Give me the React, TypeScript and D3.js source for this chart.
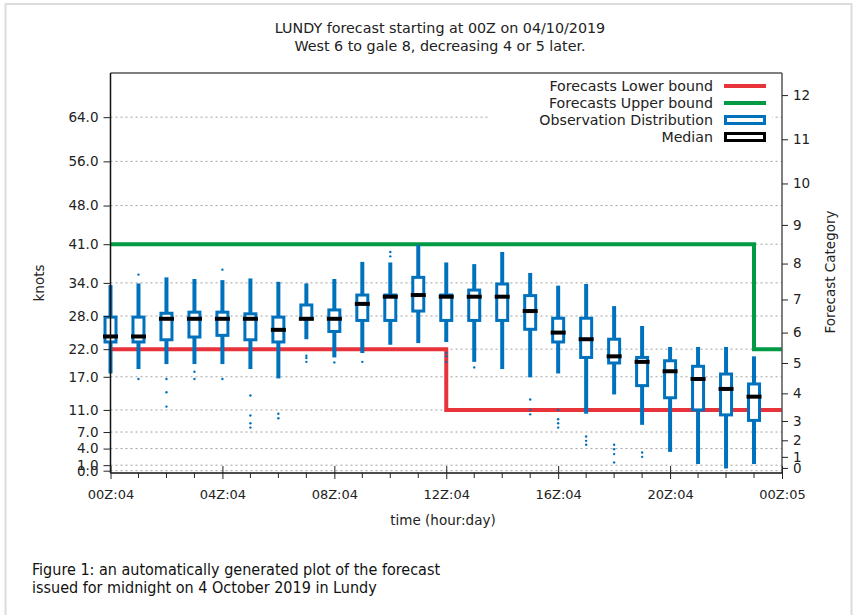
import React, { useEffect, useRef } from "react";
import * as d3 from "d3";

// hours after 00Z on 04/10/2019
const hours = [0, 1, 2, 3, 4, 5, 6, 7, 8, 9, 10, 11, 12, 13, 14, 15, 16, 17, 18, 19, 20, 21, 22, 23];

// observation distribution (knots)
const whiskerLow = [17.6, 18.4, 19.3, 19.3, 19.3, 18.4, 16.7, 23.8, 20.5, 21.3, 22.8, 23.1, 23.3, 19.7, 18.4, 16.9, 17.6, 10.3, 13.8, 8.3, 3.4, 1.2, 0.4, 1.2];
const q1 = [23.3, 23.3, 23.7, 24.2, 24.5, 23.7, 23.3, 27.5, 25.2, 27.2, 27.2, 28.9, 27.2, 27.2, 27.2, 25.6, 23.3, 20.5, 19.5, 15.4, 13.2, 11.0, 10.1, 9.1];
const median = [24.3, 24.3, 27.5, 27.5, 27.5, 27.5, 25.5, 27.5, 27.5, 30.2, 31.5, 31.8, 31.5, 31.5, 31.5, 28.9, 25.0, 23.8, 20.7, 19.7, 18.0, 16.6, 14.8, 13.4];
const q3 = [27.8, 27.8, 28.5, 28.7, 28.7, 28.4, 27.8, 30.0, 29.1, 31.8, 31.8, 35.0, 31.8, 32.7, 33.8, 31.7, 27.6, 27.6, 23.8, 20.5, 19.9, 18.9, 17.5, 15.7];
const whiskerHigh = [33.6, 33.9, 35.0, 34.7, 34.5, 34.8, 34.2, 33.9, 34.7, 37.8, 37.7, 40.9, 37.7, 37.4, 39.6, 35.8, 33.5, 33.8, 29.8, 26.2, 22.4, 22.4, 22.4, 20.7];

// outliers: [hour, knots]
const outliers = [
  [1, 35.5], [1, 16.6],
  [2, 16.6], [2, 14.2], [2, 11.6],
  [3, 17.9], [3, 16.6],
  [4, 36.4], [4, 16.6],
  [5, 13.6], [5, 10.0], [5, 8.6], [5, 7.8],
  [6, 10.3], [6, 9.5],
  [7, 20.8], [7, 20.4], [7, 19.7],
  [8, 19.6],
  [9, 19.7],
  [10, 39.6], [10, 38.8],
  [12, 21.3], [12, 20.7], [12, 19.7],
  [13, 18.7],
  [15, 12.9], [15, 11.0], [15, 10.2],
  [16, 11.0], [16, 9.3], [16, 8.6], [16, 7.8],
  [17, 6.2], [17, 5.4], [17, 4.7],
  [18, 4.7], [18, 3.9], [18, 3.0], [18, 1.5],
  [19, 3.3], [19, 2.5],
];

// forecast bounds per hour (knots)
const lowerBound = [22, 22, 22, 22, 22, 22, 22, 22, 22, 22, 22, 22, 11, 11, 11, 11, 11, 11, 11, 11, 11, 11, 11, 11];
const upperBound = [41, 41, 41, 41, 41, 41, 41, 41, 41, 41, 41, 41, 41, 41, 41, 41, 41, 41, 41, 41, 41, 41, 41, 22];

// axis ticks
const knotTicks = [64, 56, 48, 41, 34, 28, 22, 17, 11, 7, 4, 1, 0];
const categoryLabels = ["0", "1", "2", "3", "4", "5", "6", "7", "8", "9", "10", "11", "12"];
const categoryKnots = [0.5, 2.5, 5.5, 9, 14, 19.5, 25, 31, 37.5, 44.5, 52, 60, 68];
const majorHours = [0, 4, 8, 12, 16, 20, 24];
const majorLabels = ["00Z:04", "04Z:04", "08Z:04", "12Z:04", "16Z:04", "20Z:04", "00Z:05"];

const BLUE = "#0072bd";
const RED = "#e8333a";
const GREEN = "#009a44";
const FONT = "'DejaVu Sans', sans-serif";

export default function App() {
  const ref = useRef<SVGSVGElement>(null);

  useEffect(() => {
    const svg = d3.select(ref.current);
    svg.selectAll("*").remove();

    const dims = { left: 110.5, right: 782, top: 73, bottom: 473 };

    const x = d3.scaleLinear().domain([0, 24]).range([dims.left, dims.right]);
    const y = d3.scaleLinear().domain([-0.42, 72]).range([dims.bottom, dims.top]);

    // page frame
    svg.append("rect")
      .attr("x", 5.5).attr("y", 4).attr("width", 846).attr("height", 640)
      .attr("fill", "white").attr("stroke", "#dcdcdc").attr("stroke-width", 2);

    // titles
    const title = svg.append("text")
      .attr("x", 440).attr("text-anchor", "middle")
      .style("font-family", FONT).style("font-size", "14.3px").attr("fill", "#222");
    title.append("tspan").attr("x", 440).attr("y", 33).text("LUNDY forecast starting at 00Z on 04/10/2019");
    title.append("tspan").attr("x", 440).attr("y", 51).text("West 6 to gale 8, decreasing 4 or 5 later.");

    // grid
    svg.append("g")
      .selectAll("line")
      .data(knotTicks)
      .join("line")
      .attr("x1", dims.left).attr("x2", dims.right)
      .attr("y1", d => y(d)).attr("y2", d => y(d))
      .attr("stroke", "#a0a0a0").attr("stroke-width", 1)
      .attr("stroke-dasharray", "2,3");

    // forecast bounds
    const stepLine = d3.line<number[]>()
      .x(d => x(d[0]))
      .y(d => y(d[1]))
      .curve(d3.curveStepAfter);

    const lowerPts = hours.map((h, i) => [h, lowerBound[i]]).concat([[24, lowerBound[lowerBound.length - 1]]]);
    const upperPts = hours.map((h, i) => [h, upperBound[i]]).concat([[24, upperBound[upperBound.length - 1]]]);

    svg.append("path").attr("d", stepLine(lowerPts)).attr("fill", "none")
      .attr("stroke", RED).attr("stroke-width", 4);
    svg.append("path").attr("d", stepLine(upperPts)).attr("fill", "none")
      .attr("stroke", GREEN).attr("stroke-width", 4);

    // boxes
    const boxes = svg.append("g");
    hours.forEach((h, i) => {
      const cx = x(h);
      boxes.append("line")
        .attr("x1", cx).attr("x2", cx)
        .attr("y1", y(whiskerLow[i])).attr("y2", y(whiskerHigh[i]))
        .attr("stroke", BLUE).attr("stroke-width", 4);
      boxes.append("rect")
        .attr("x", cx - 5.5).attr("width", 11)
        .attr("y", y(q3[i])).attr("height", y(q1[i]) - y(q3[i]))
        .attr("fill", "white").attr("stroke", BLUE).attr("stroke-width", 3);
      boxes.append("line")
        .attr("x1", cx - 7.5).attr("x2", cx + 7.5)
        .attr("y1", y(median[i])).attr("y2", y(median[i]))
        .attr("stroke", "black").attr("stroke-width", 4);
    });

    boxes.selectAll("circle")
      .data(outliers)
      .join("circle")
      .attr("cx", d => x(d[0]))
      .attr("cy", d => y(d[1]))
      .attr("r", 1.2)
      .attr("fill", BLUE);

    // legend
    const legend = svg.append("g");
    legend.append("rect")
      .attr("x", 490).attr("y", 75).attr("width", 282).attr("height", 74)
      .attr("fill", "white");
    const rows = [
      { label: "Forecasts Lower bound", kind: "line", color: RED },
      { label: "Forecasts Upper bound", kind: "line", color: GREEN },
      { label: "Observation Distribution", kind: "box", color: BLUE },
      { label: "Median", kind: "box", color: "black" },
    ];
    rows.forEach((r, i) => {
      const ry = 86 + i * 17;
      legend.append("text")
        .attr("x", 713).attr("y", ry).attr("dy", "0.35em")
        .attr("text-anchor", "end")
        .style("font-family", FONT).style("font-size", "14.2px").attr("fill", "#222")
        .text(r.label);
      if (r.kind === "line") {
        legend.append("line")
          .attr("x1", 724).attr("x2", 766).attr("y1", ry).attr("y2", ry)
          .attr("stroke", r.color).attr("stroke-width", 4);
      } else {
        legend.append("rect")
          .attr("x", 725.5).attr("y", ry - 3.5).attr("width", 39).attr("height", 7)
          .attr("fill", "white").attr("stroke", r.color).attr("stroke-width", 3);
      }
    });

    // frame
    svg.append("line").attr("x1", dims.left).attr("x2", dims.right)
      .attr("y1", dims.top).attr("y2", dims.top).attr("stroke", "#555").attr("stroke-width", 1.5);
    svg.append("line").attr("x1", dims.right).attr("x2", dims.right)
      .attr("y1", dims.top).attr("y2", dims.bottom).attr("stroke", "#555").attr("stroke-width", 1.5);

    // left axis
    const leftAxis = svg.append("g")
      .attr("transform", `translate(${dims.left},0)`)
      .call(d3.axisLeft(y).tickValues(knotTicks).tickFormat(d3.format(".1f")).tickSizeOuter(0).tickSize(7).tickPadding(5));
    leftAxis.select(".domain").attr("stroke", "#111").attr("stroke-width", 1.5)
      .attr("d", `M0,${dims.top}V${dims.bottom}`);
    leftAxis.selectAll(".tick line").attr("stroke", "#222");
    leftAxis.selectAll("text").style("font-family", FONT).style("font-size", "13.5px").attr("fill", "#222");

    // right axis
    const rightAxis = svg.append("g")
      .attr("transform", `translate(${dims.right},0)`)
      .call(d3.axisRight(y).tickValues(categoryKnots)
        .tickFormat((_d, i) => categoryLabels[i]).tickSizeOuter(0).tickSize(6).tickPadding(5));
    rightAxis.select(".domain").remove();
    rightAxis.selectAll(".tick line").attr("stroke", "#222");
    rightAxis.selectAll("text").style("font-family", FONT).style("font-size", "13.5px").attr("fill", "#222");

    // bottom axis
    const bottomAxis = svg.append("g")
      .attr("transform", `translate(0,${dims.bottom})`)
      .call(d3.axisBottom(x).tickValues(majorHours)
        .tickFormat((_d, i) => majorLabels[i]).tickSizeOuter(0).tickSize(6).tickPadding(11));
    bottomAxis.select(".domain").attr("stroke", "#111").attr("stroke-width", 1.5)
      .attr("d", `M${dims.left},0H${dims.right}`);
    bottomAxis.selectAll(".tick line").attr("stroke", "#222").attr("y1", -7);
    bottomAxis.selectAll("text").style("font-family", FONT).style("font-size", "13px").attr("fill", "#222");
    bottomAxis.append("g")
      .selectAll("line")
      .data(hours.filter(h => majorHours.indexOf(h) < 0))
      .join("line")
      .attr("x1", d => x(d)).attr("x2", d => x(d))
      .attr("y1", 0).attr("y2", 5)
      .attr("stroke", "#222");

    // axis titles
    svg.append("text")
      .attr("transform", "translate(44,283) rotate(-90)")
      .attr("text-anchor", "middle")
      .style("font-family", FONT).style("font-size", "13.5px").attr("fill", "#222")
      .text("knots");
    svg.append("text")
      .attr("transform", "translate(835,272) rotate(-90)")
      .attr("text-anchor", "middle")
      .style("font-family", FONT).style("font-size", "13.5px").attr("fill", "#222")
      .text("Forecast Category");
    svg.append("text")
      .attr("x", 443).attr("y", 525)
      .attr("text-anchor", "middle")
      .style("font-family", FONT).style("font-size", "13.5px").attr("fill", "#222")
      .text("time (hour:day)");

    // caption
    const caption = svg.append("text")
      .style("font-family", "'Liberation Sans Narrow', 'DejaVu Sans Condensed', 'Roboto', sans-serif")
      .style("font-size", "16px").attr("fill", "#111");
    caption.append("tspan").attr("x", 32).attr("y", 575)
      .text("Figure 1: an automatically generated plot of the forecast");
    caption.append("tspan").attr("x", 32).attr("y", 593)
      .text("issued for midnight on 4 October 2019 in Lundy");
  }, []);

  return (
    <svg
      ref={ref}
      width={865}
      height={615}
      style={{ position: "absolute", left: 0, top: 0, background: "white" }}
    />
  );
}
